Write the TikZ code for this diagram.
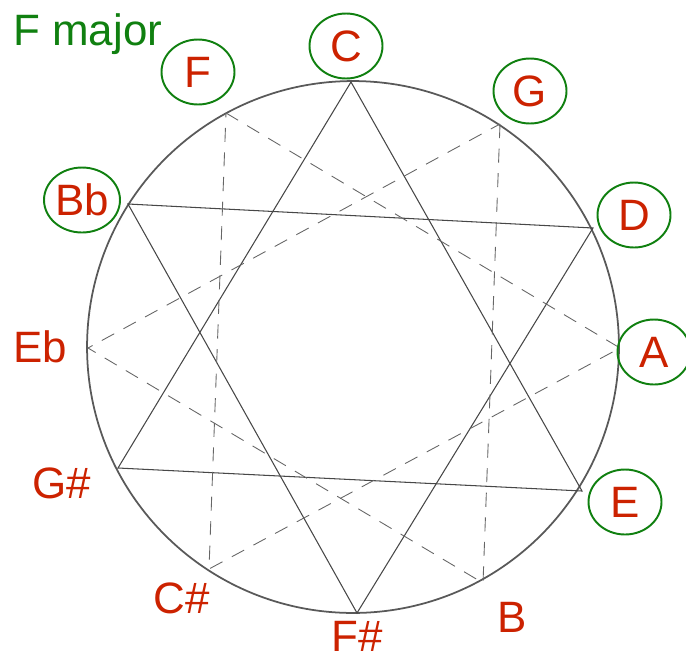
\documentclass[tikz,border=0pt]{standalone}
\usepackage{fontspec}
\setmainfont{Liberation Sans}
\usetikzlibrary{shapes.geometric}
\definecolor{notered}{RGB}{204,34,0}
\definecolor{scalegreen}{RGB}{16,128,16}

\begin{document}
\begin{tikzpicture}[x=0.02cm, y=-0.02cm, every node/.style={font=\fontsize{25}{29}\selectfont, text=notered}, inkey/.style={ellipse, draw=scalegreen, line width=1.1pt, minimum width=1.46cm, minimum height=1.3cm, inner sep=0pt}, side/.style={draw=black!72, line width=0.6pt}, dsh/.style={draw=black!60, line width=0.5pt, dash pattern=on 8pt off 6pt}]
	\useasboundingbox (0,0) rectangle (686,660);
	\node[circle, draw=black!65, line width=1pt, minimum size=10.64cm, inner sep=0pt] (ring) at (353,347) {};
	\foreach \n/\x/\y in {C/351/82, G/500/124, D/593/228, A/620/348, E/582/491, B/483/583, Fs/357/613, Cs/209/569, Gs/118/468, Eb/88/348, Bb/128/204, F/226/113} {\coordinate (p\n) at (\x,\y);}
	% solid triangles
	\draw[side] (pC) -- (pE) -- (pGs) -- cycle;
	\draw[side] (pD) -- (pFs) -- (pBb) -- cycle;
	% dashed triangles
	\draw[dsh] (pF) -- (pA) -- (pCs) -- cycle;
	\draw[dsh] (pG) -- (pB) -- (pEb) -- cycle;
	% notes of the key
	\foreach \n/\t/\x/\y in {F/F/198/72, C/C/346/46, G/G/530/91, D/D/634/215, A/A/654/352, E/E/625/502, Bb/Bb/82/200} {\node[inkey] (l\n) at (\x,\y) {\t};}
	% other notes
	\node (lEb) at (40,347) {Eb};
	\node (lGs) at (62,483) {G\#};
	\node (lCs) at (182,598) {C\#};
	\node[anchor=base, inner sep=0pt] (lFs) at (357,651) {F\#};
	\node (lB) at (512,617) {B};
	\node[text=scalegreen, anchor=base west, inner sep=0pt] (title) at (13,45) {F major};
\end{tikzpicture}
\end{document}
